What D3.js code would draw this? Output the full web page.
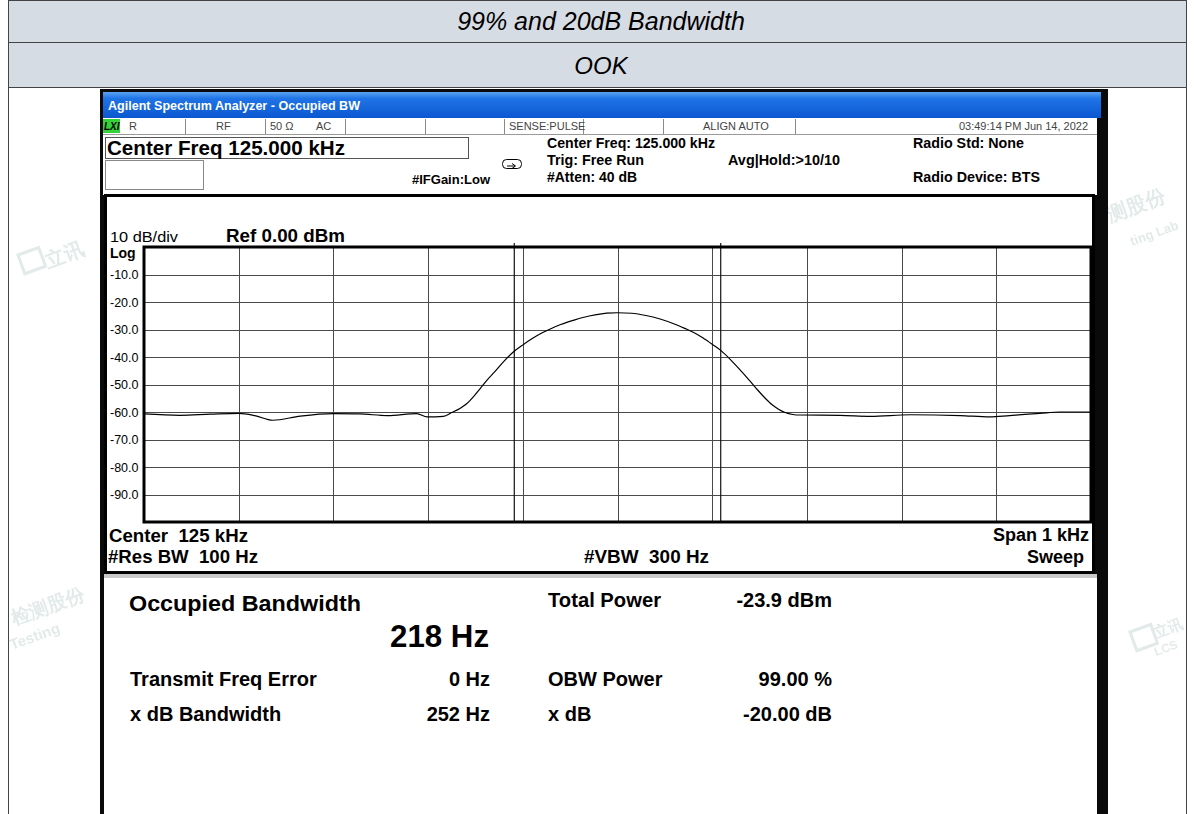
<!DOCTYPE html>
<html>
<head>
<meta charset="utf-8">
<script src="https://cdn.jsdelivr.net/npm/d3@7"></script>
<style>
body { margin: 0; background: #fff; }
text { font-family: "Liberation Sans", Arial, sans-serif; }
</style>
</head>
<body>
<div id="c"></div>
<script>
// ---- data ----
var header_rows = ["99% and 20dB Bandwidth", "OOK"];

// trace: offset from centre freq (Hz) and level (dBm)
var trace_hz  = [-500, -462, -430, -400, -383, -364, -335, -300, -272, -243, -212, -201, -184, -175, -166, -159, -152, -145, -138, -130, -120, -110, -100, -90, -80, -71, -60, -45, -30, -15, 0, 15, 30, 45, 60, 71, 80, 90, 101, 109, 120, 129, 140, 148, 156, 163, 170, 177, 185, 193, 235, 267, 309, 362, 393, 414, 446, 467, 500];
var trace_dbm = [-60.7, -61.2, -60.8, -60.5, -61.3, -63.0, -61.5, -60.6, -60.7, -61.3, -60.6, -61.8, -61.6, -60.2, -58.6, -56.9, -54.4, -51.5, -48.5, -45.5, -41.6, -38.2, -35.6, -33.3, -31.3, -29.8, -28.2, -26.5, -25.1, -24.2, -23.9, -24.1, -24.9, -26.2, -28.0, -29.6, -31.0, -33.0, -35.6, -37.6, -41.2, -44.5, -48.8, -52.0, -55.0, -57.3, -59.0, -60.2, -60.9, -61.1, -61.2, -61.6, -61.0, -61.3, -61.8, -61.3, -60.5, -60.0, -60.0];

var y_ticks = [-10, -20, -30, -40, -50, -60, -70, -80, -90];
var x_grid_hz = [-400, -300, -200, -100, 0, 100, 200, 300, 400];
var obw_markers_hz = [-109, 109];

var result_labels_l = ["Transmit Freq Error", "x dB Bandwidth"];
var result_values_l = ["0 Hz", "252 Hz"];
var result_labels_r = ["OBW Power", "x dB"];
var result_values_r = ["99.00 %", "-20.00 dB"];

var width = 1195, height = 814;

var svg = d3.select("#c").append("svg")
	.attr("width", width)
	.attr("height", height);

function txt(g, x, y, s, size, opt) {
	opt = opt || {};
	var t = g.append("text")
		.attr("x", x).attr("y", y)
		.attr("font-size", size)
		.attr("font-weight", opt.bold ? "bold" : "normal")
		.attr("font-style", opt.italic ? "italic" : "normal")
		.attr("text-anchor", opt.anchor || "start")
		.attr("fill", opt.fill || "#000")
		.attr("xml:space", "preserve")
		.text(s);
	if (opt.len) t.attr("textLength", opt.len).attr("lengthAdjust", "spacingAndGlyphs");
	return t;
}

// ---- outer report table ----
svg.append("rect").attr("x", 8.5).attr("y", 0.5).attr("width", 1178).attr("height", 42)
	.attr("fill", "#d6dce4").attr("stroke", "#444");
svg.append("rect").attr("x", 8.5).attr("y", 42.5).attr("width", 1178).attr("height", 45)
	.attr("fill", "#d6dce4").attr("stroke", "#444");
svg.append("rect").attr("x", 8.5).attr("y", 87.5).attr("width", 1178).attr("height", 740)
	.attr("fill", "#fff").attr("stroke", "#444");
txt(svg, 601, 30, header_rows[0], 25, {italic: true, anchor: "middle"});
txt(svg, 601, 74, header_rows[1], 24, {italic: true, anchor: "middle"});

// faint lab watermark fragments (the rest sits under the screenshot)
var wm = svg.append("g").attr("opacity", 0.2).attr("fill", "#6f9894").attr("font-weight", "bold");
function wm_text(x, y, s, size, cjk) {
	wm.append("text")
		.attr("transform", "translate(" + x + "," + y + ") rotate(-20)")
		.attr("font-size", size)
		.attr("font-family", cjk ? "Noto Sans CJK SC" : null)
		.text(s);
}
function wm_icon(x, y) {
	wm.append("rect").attr("transform", "translate(" + x + "," + y + ") rotate(-20)")
		.attr("width", 22).attr("height", 20)
		.attr("fill", "none").attr("stroke", "#6f9894").attr("stroke-width", 3);
}
wm_icon(18, 255); wm_text(48, 268, "立讯", 20, true);
wm_text(14, 625, "检测股份", 19, true); wm_text(12, 650, "Testing", 15);
wm_text(1110, 222, "测股份", 20, true); wm_text(1132, 246, "ting Lab", 13);
wm_icon(1130, 632); wm_text(1156, 638, "立讯", 15, true); wm_text(1156, 656, "LCS", 12);

// ---- screenshot of the analyser ----
var shot = svg.append("g");
shot.append("rect").attr("x", 100).attr("y", 89).attr("width", 1008).attr("height", 740).attr("fill", "#0a0a0a");

var defs = svg.append("defs");
var tb_grad = defs.append("linearGradient").attr("id", "tb-grad")
	.attr("x1", "0%").attr("y1", "0%").attr("x2", "0%").attr("y2", "100%");
tb_grad.append("stop").attr("offset", "0%").attr("stop-color", "#5aa2f2");
tb_grad.append("stop").attr("offset", "25%").attr("stop-color", "#1f74e6");
tb_grad.append("stop").attr("offset", "100%").attr("stop-color", "#0b57d0");

shot.append("rect").attr("x", 103).attr("y", 92).attr("width", 998).attr("height", 26).attr("fill", "url(#tb-grad)");
txt(shot, 108, 110, "Agilent Spectrum Analyzer - Occupied BW", 12.5, {bold: true, fill: "#fff", len: 252});

// top white area with status row and settings
shot.append("rect").attr("x", 103).attr("y", 118).attr("width", 994).attr("height", 77).attr("fill", "#fff");
shot.append("line").attr("x1", 103).attr("x2", 1097).attr("y1", 134.5).attr("y2", 134.5).attr("stroke", "#9a9a9a");
var sep_x = [185, 265, 345, 425, 504, 583, 663, 795];
sep_x.forEach(function(x) {
	shot.append("line").attr("x1", x + 0.5).attr("x2", x + 0.5).attr("y1", 119).attr("y2", 134)
		.attr("stroke", "#8a8a8a");
});
shot.append("rect").attr("x", 103).attr("y", 119).attr("width", 17).attr("height", 14).attr("fill", "#35d13a");
txt(shot, 104, 130, "LXI", 10, {bold: true, italic: true});
var status_cells = [["R", 129], ["RF", 216], ["50 Ω", 270], ["AC", 316], ["SENSE:PULSE", 509], ["ALIGN AUTO", 703]];
status_cells.forEach(function(c) {
	txt(shot, c[1], 130, c[0], 11, {fill: "#444"});
});
txt(shot, 1088, 130, "03:49:14 PM Jun 14, 2022", 11, {anchor: "end", fill: "#444"});

shot.append("rect").attr("x", 105.5).attr("y", 137.5).attr("width", 363).attr("height", 21)
	.attr("fill", "#fff").attr("stroke", "#555");
txt(shot, 107, 155, "Center Freq 125.000 kHz", 21, {bold: true, len: 238});
shot.append("rect").attr("x", 105.5).attr("y", 160.5).attr("width", 98).attr("height", 29)
	.attr("fill", "#fff").attr("stroke", "#888");
txt(shot, 412, 184, "#IFGain:Low", 13, {bold: true, len: 78});
// trigger icon
shot.append("rect").attr("x", 502.5).attr("y", 159.5).attr("width", 19).attr("height", 9).attr("rx", 4)
	.attr("fill", "none").attr("stroke", "#000");
shot.append("path").attr("d", "M507,166 L515,166 M512,163.5 L515.5,166 L512,168.5").attr("fill", "none").attr("stroke", "#000");
txt(shot, 547, 148, "Center Freq: 125.000 kHz", 14, {bold: true, len: 168});
txt(shot, 547, 165, "Trig: Free Run", 14, {bold: true, len: 97});
txt(shot, 547, 182, "#Atten: 40 dB", 14, {bold: true, len: 90});
txt(shot, 728, 165, "Avg|Hold:>10/10", 14, {bold: true, len: 112});
txt(shot, 913, 148, "Radio Std: None", 14, {bold: true, len: 111});
txt(shot, 913, 182, "Radio Device: BTS", 14, {bold: true, len: 127});

// graph panel
shot.append("rect").attr("x", 105.5).attr("y", 195.5).attr("width", 988).attr("height", 377)
	.attr("fill", "#fff").attr("stroke", "#000").attr("stroke-width", 3);

var plot = {left: 144, right: 1091, top: 247, bottom: 522};
var x_scale = d3.scaleLinear().domain([-500, 500]).range([plot.left, plot.right]);
var y_scale = d3.scaleLinear().domain([-100, 0]).range([plot.bottom, plot.top]);

txt(shot, 110, 242, "10 dB/div", 14.5, {len: 68});
txt(shot, 226, 242, "Ref 0.00 dBm", 18, {bold: true, len: 119});
txt(shot, 110, 258, "Log", 14, {bold: true});

// grid
shot.append("g").selectAll("line").data(y_ticks).enter().append("line")
	.attr("x1", plot.left).attr("x2", plot.right)
	.attr("y1", function(d) { return Math.round(y_scale(d)) + 0.5; })
	.attr("y2", function(d) { return Math.round(y_scale(d)) + 0.5; })
	.attr("stroke", "#4a4a4a");
shot.append("g").selectAll("line").data(x_grid_hz).enter().append("line")
	.attr("x1", function(d) { return Math.round(x_scale(d)) + 0.5; })
	.attr("x2", function(d) { return Math.round(x_scale(d)) + 0.5; })
	.attr("y1", plot.top).attr("y2", plot.bottom)
	.attr("stroke", "#4a4a4a");

// y tick labels
shot.append("g").selectAll("text").data(y_ticks).enter().append("text")
	.attr("x", 110)
	.attr("y", function(d) { return y_scale(d) + 4.5; })
	.attr("font-size", 12.5)
	.text(function(d) { return d.toFixed(1); });

// OBW markers
shot.append("g").selectAll("line").data(obw_markers_hz).enter().append("line")
	.attr("x1", function(d) { return x_scale(d); })
	.attr("x2", function(d) { return x_scale(d); })
	.attr("y1", plot.top - 4).attr("y2", plot.bottom)
	.attr("stroke", "#111").attr("stroke-width", 1.2);

// trace
var trace = trace_hz.map(function(f, i) { return [f, trace_dbm[i]]; });
var line = d3.line()
	.x(function(d) { return x_scale(d[0]); })
	.y(function(d) { return y_scale(d[1]); })
	.curve(d3.curveMonotoneX);
shot.append("path").datum(trace)
	.attr("d", line)
	.attr("fill", "none")
	.attr("stroke", "#000")
	.attr("stroke-width", 1.2);

shot.append("rect").attr("x", plot.left).attr("y", plot.top)
	.attr("width", plot.right - plot.left).attr("height", plot.bottom - plot.top)
	.attr("fill", "none").attr("stroke", "#000").attr("stroke-width", 3);

txt(shot, 109, 542, "Center  125 kHz", 18, {bold: true, len: 139});
txt(shot, 108, 563, "#Res BW  100 Hz", 18, {bold: true, len: 150});
txt(shot, 584, 563, "#VBW  300 Hz", 18, {bold: true, len: 125});
txt(shot, 1089, 541, "Span 1 kHz", 18, {bold: true, anchor: "end"});
txt(shot, 1084, 563, "Sweep", 18, {bold: true, anchor: "end"});

// results panel
shot.append("rect").attr("x", 104).attr("y", 574).attr("width", 993).attr("height", 4).attr("fill", "#c9c9c9");
shot.append("rect").attr("x", 104).attr("y", 578).attr("width", 993).attr("height", 250).attr("fill", "#fff");

txt(shot, 129, 611, "Occupied Bandwidth", 22, {bold: true, len: 232});
txt(shot, 390, 647, "218 Hz", 32, {bold: true, len: 99});
txt(shot, 548, 607, "Total Power", 20, {bold: true, len: 113});
txt(shot, 832, 607, "-23.9 dBm", 20, {bold: true, anchor: "end"});

var row_y = [686, 721];
row_y.forEach(function(y, i) {
	txt(shot, 130, y, result_labels_l[i], 20, {bold: true});
	txt(shot, 490, y, result_values_l[i], 20, {bold: true, anchor: "end"});
	txt(shot, 548, y, result_labels_r[i], 20, {bold: true});
	txt(shot, 832, y, result_values_r[i], 20, {bold: true, anchor: "end"});
});
</script>
</body>
</html>
